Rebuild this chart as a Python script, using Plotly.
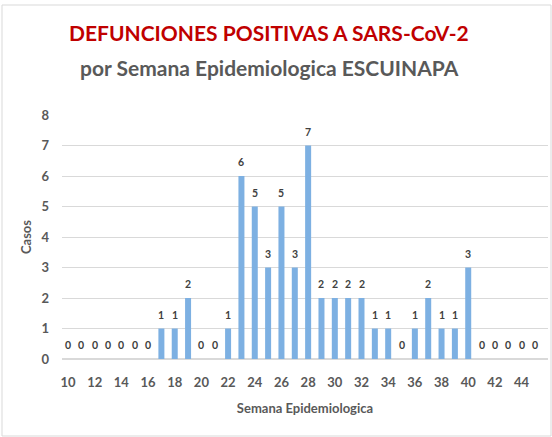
import plotly.graph_objects as go

# Epidemiological weeks and COVID-19 deaths per week
semanas = list(range(10, 46))
defunciones = [0, 0, 0, 0, 0, 0, 0, 1, 1, 2, 0, 0, 1, 6, 5, 3, 5, 3, 7,
               2, 2, 2, 2, 1, 1, 0, 1, 2, 1, 1, 3, 0, 0, 0, 0, 0]
tick_semanas = list(range(10, 45, 2))
tick_casos = list(range(0, 9))

W, H = 552, 437
ml, mr, mt, mb = 62, 4, 115, 78
pw, ph = W - ml - mr, H - mt - mb


def px(x):
    return (x - ml) / pw


def py(y):
    return (H - mb - y) / ph


fig = go.Figure()
fig.add_trace(go.Bar(
    x=semanas,
    y=defunciones,
    width=0.45,
    marker=dict(color="#7DB0E2", line=dict(width=0)),
    hoverinfo="x+y",
))

# Value labels above each bar
for s, v in zip(semanas, defunciones):
    fig.add_annotation(x=s, y=v, text=str(v), showarrow=False,
                       xref="x", yref="y", yanchor="middle", yshift=14,
                       font=dict(size=10.5, color="#404040", family="Lato", weight="bold"))

fig.update_layout(
    width=W,
    height=H,
    margin=dict(l=ml, r=mr, t=mt, b=mb),
    paper_bgcolor="white",
    plot_bgcolor="white",
    showlegend=False,
    font=dict(family="Lato"),
)

fig.add_annotation(text="DEFUNCIONES POSITIVAS A SARS-CoV-2", x=px(269), y=py(32),
                   xref="paper", yref="paper", showarrow=False,
                   xanchor="center", yanchor="middle",
                   font=dict(size=21, color="#C00000", family="Lato", weight="bold"))
fig.add_annotation(text="por Semana Epidemiologica ESCUINAPA", x=px(269), y=py(68),
                   xref="paper", yref="paper", showarrow=False,
                   xanchor="center", yanchor="middle",
                   font=dict(size=21, color="#595959", family="Lato", weight="bold"))

fig.update_xaxes(
    range=[9.55, 45.98],
    tickmode="array",
    tickvals=tick_semanas,
    ticktext=[str(t) for t in tick_semanas],
    showgrid=False,
    zeroline=False,
    showline=False,
    ticks="",
    ticklabelstandoff=14,
    tickfont=dict(size=13, color="#595959", family="Lato", weight="bold"),
    title=dict(text="Semana Epidemiologica", standoff=14,
               font=dict(size=13, color="#595959", family="Lato", weight="bold")),
)
fig.update_yaxes(
    range=[0, 8],
    tickmode="array",
    tickvals=tick_casos,
    showgrid=True,
    gridcolor="#D9D9D9",
    gridwidth=1,
    zeroline=True,
    zerolinecolor="#D9D9D9",
    showline=False,
    ticks="",
    ticklabelstandoff=12,
    tickfont=dict(size=13, color="#595959", family="Lato", weight="bold"),
    title=dict(text="Casos", standoff=6,
               font=dict(size=13, color="#595959", family="Lato", weight="bold")),
)

# Chart-area border
fig.add_shape(type="rect", xref="paper", yref="paper",
              x0=px(2), x1=px(551), y0=py(436), y1=py(5),
              line=dict(color="#D9D9D9", width=1), fillcolor="rgba(0,0,0,0)")

fig.write_html("out.html")
